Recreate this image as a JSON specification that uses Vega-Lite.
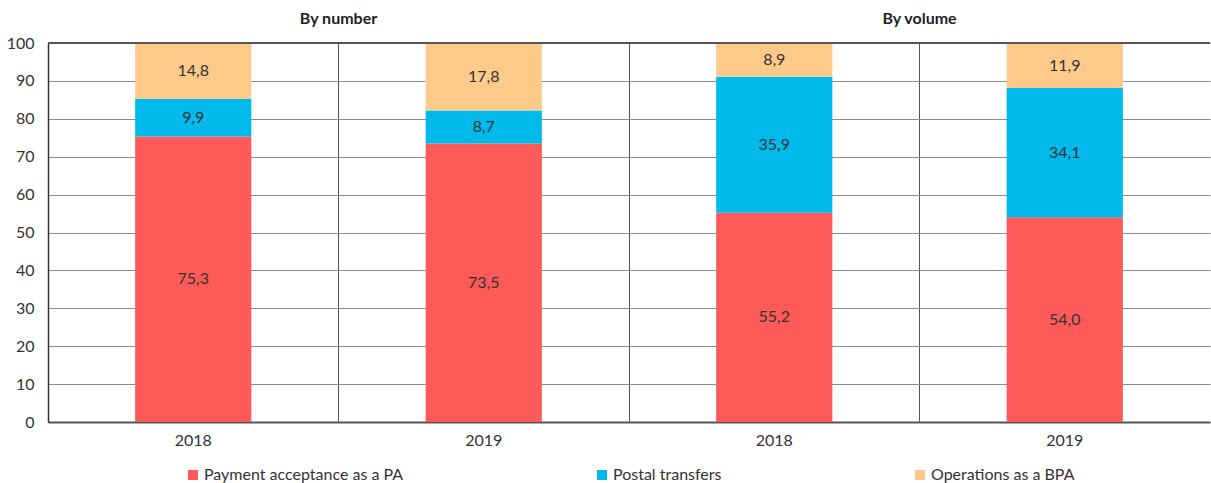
{
  "$schema": "https://vega.github.io/schema/vega-lite/v6.json",
  "padding": {"left": 6, "top": 10, "right": 0, "bottom": 0},
  "background": "white",
  "width": 1162,
  "height": 379,
  "config": {
    "font": "Lato",
    "view": {"stroke": null},
    "locale": {"number": {"decimal": ",", "thousands": " ", "grouping": [3], "currency": ["", ""]}}
  },
  "data": {
    "values": [
      {"measure": "By number", "year": "2018", "series": "Payment acceptance as a PA", "value": 75.3},
      {"measure": "By number", "year": "2018", "series": "Postal transfers", "value": 9.9},
      {"measure": "By number", "year": "2018", "series": "Operations as a BPA", "value": 14.8},
      {"measure": "By number", "year": "2019", "series": "Payment acceptance as a PA", "value": 73.5},
      {"measure": "By number", "year": "2019", "series": "Postal transfers", "value": 8.7},
      {"measure": "By number", "year": "2019", "series": "Operations as a BPA", "value": 17.8},
      {"measure": "By volume", "year": "2018", "series": "Payment acceptance as a PA", "value": 55.2},
      {"measure": "By volume", "year": "2018", "series": "Postal transfers", "value": 35.9},
      {"measure": "By volume", "year": "2018", "series": "Operations as a BPA", "value": 8.9},
      {"measure": "By volume", "year": "2019", "series": "Payment acceptance as a PA", "value": 54.0},
      {"measure": "By volume", "year": "2019", "series": "Postal transfers", "value": 34.1},
      {"measure": "By volume", "year": "2019", "series": "Operations as a BPA", "value": 11.9}
    ]
  },
  "transform": [
    {"calculate": "datum.measure + '|' + datum.year", "as": "key"},
    {"calculate": "indexof(['Payment acceptance as a PA','Postal transfers','Operations as a BPA'], datum.series)", "as": "k"},
    {"stack": "value", "groupby": ["key"], "sort": [{"field": "k", "order": "ascending"}], "as": ["v0", "v1"]},
    {"calculate": "(datum.v0 + datum.v1) / 2", "as": "mid"}
  ],
  "layer": [
    {
      "layer": [
        {
          "mark": {"type": "bar", "width": {"band": 0.4}},
          "encoding": {
            "x": {
              "field": "key", "type": "nominal",
              "scale": {"paddingInner": 0, "paddingOuter": 0},
              "axis": {
                "title": null, "labelAngle": 0, "ticks": false, "labelPadding": 10,
                "labelExpr": "split(datum.label, '|')[1]",
                "labelFontSize": 16, "labelColor": "#333", "labelFont": "Lato",
                "domainColor": "#555", "domainWidth": 2,
                "grid": true, "bandPosition": 0, "gridColor": "#555", "gridWidth": 1
              }
            },
            "y": {
              "field": "v1", "type": "quantitative",
              "scale": {"domain": [0, 100]},
              "axis": {
                "title": null, "values": [0,10,20,30,40,50,60,70,80,90,100], "tickCount": 20, "labelOverlap": false, "ticks": false,
                "labelPadding": 14, "labelFontSize": 16, "labelColor": "#333", "labelFont": "Lato",
                "domainColor": "#333", "domainWidth": 1.5,
                "gridColor": "#8c8c8c", "gridWidth": 1.2
              }
            },
            "y2": {"field": "v0"},
            "color": {
              "field": "series", "type": "nominal",
              "scale": {"domain": ["Payment acceptance as a PA", "Postal transfers", "Operations as a BPA"], "range": ["#FE5A59", "#00BAEC", "#FDCA8A"]},
              "legend": {
                "title": null, "orient": "none", "direction": "horizontal", "legendX": 137, "legendY": 424,
                "symbolType": "square", "symbolSize": 100, "symbolStrokeWidth": 0,
                "labelFontSize": 16, "labelColor": "#333", "labelFont": "Lato", "labelOffset": 3, "labelLimit": 400,
                "columnPadding": 190, "gridAlign": "none"
              }
            }
          }
        },
        {
          "mark": {"type": "text", "fontSize": 16, "color": "#333", "font": "Lato", "baseline": "middle"},
          "encoding": {
            "x": {"field": "key", "type": "nominal"},
            "y": {"field": "mid", "type": "quantitative"},
            "text": {"field": "value", "type": "quantitative", "format": ".1f"}
          }
        },
        {
          "mark": {"type": "rule", "color": "#555", "strokeWidth": 2},
          "encoding": {"y": {"datum": 100}}
        }
      ]
    },
    {
      "mark": {"type": "bar", "opacity": 0},
      "encoding": {
        "x": {
          "field": "measure", "type": "nominal",
          "scale": {"paddingInner": 0, "paddingOuter": 0},
          "axis": {
            "orient": "top", "title": null, "labelAngle": 0, "ticks": false, "domain": false, "grid": false,
            "labelFontSize": 16, "labelFontWeight": "bold", "labelColor": "#222", "labelFont": "Lato", "labelPadding": 17
          }
        }
      }
    }
  ],
  "resolve": {"scale": {"x": "independent"}, "axis": {"x": "independent"}}
}
